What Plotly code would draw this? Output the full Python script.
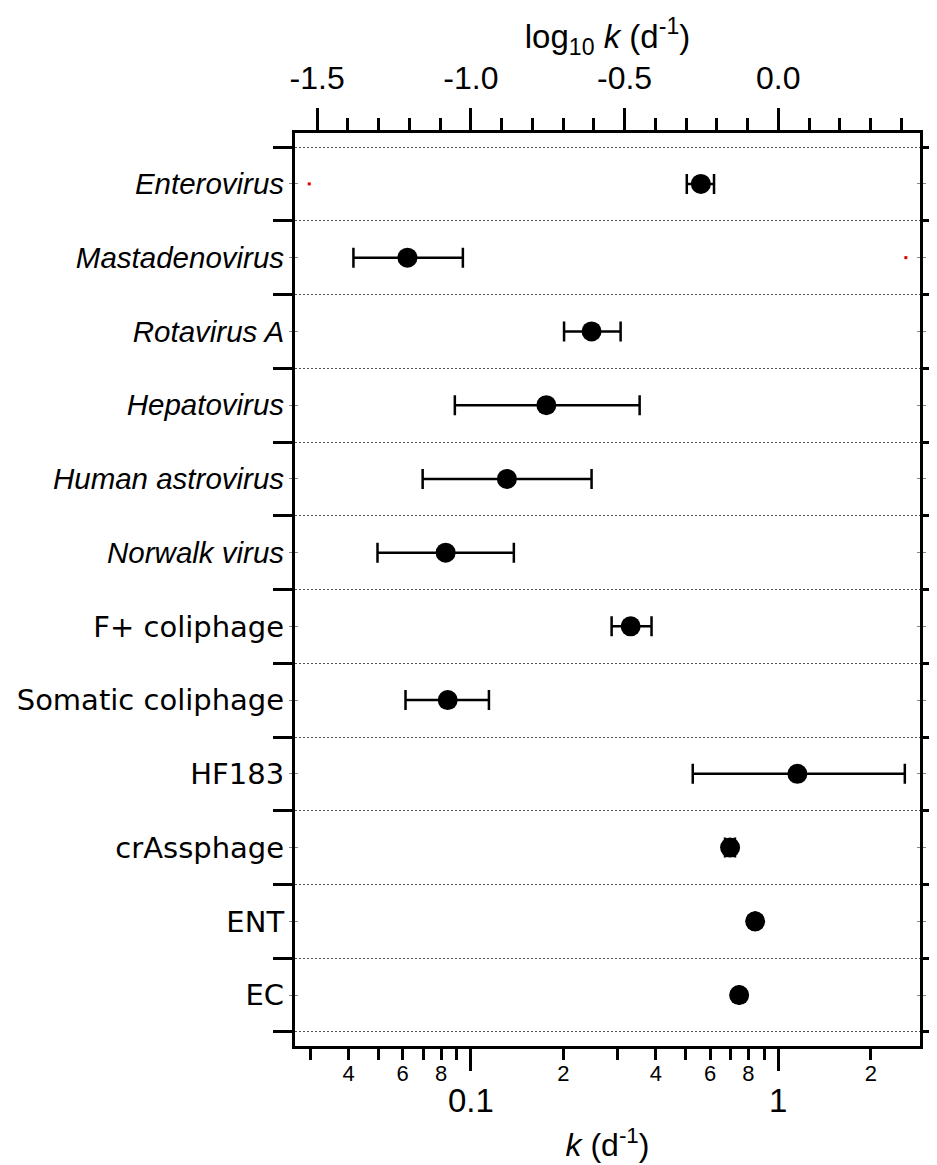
import numpy as np
import plotly.graph_objects as go

# ---- data (k in d^-1) ----
categories = ["Enterovirus", "Mastadenovirus", "Rotavirus A", "Hepatovirus",
              "Human astrovirus", "Norwalk virus", "F+ coliphage", "Somatic coliphage",
              "HF183", "crAssphage", "ENT", "EC"]
italic_flags = [True, True, True, True, True, True, False, False, False, False, False, False]
k_mean = [0.560, 0.0622, 0.247, 0.176, 0.131, 0.0828, 0.331, 0.0841, 1.154, 0.697, 0.841, 0.746]
k_low = [0.504, 0.0415, 0.201, 0.0887, 0.0697, 0.0497, 0.287, 0.0613, 0.527, 0.671, 0.841, 0.746]
k_high = [0.618, 0.0942, 0.307, 0.354, 0.247, 0.138, 0.387, 0.1145, 2.58, 0.723, 0.841, 0.746]

# stray red points visible in the original
stray_k = [0.0298, 2.60]
stray_cat = [0, 1]

# axis tick definitions
top_major = [-1.5, -1.0, -0.5, 0.0]
top_major_text = ["-1.5", "-1.0", "-0.5", "0.0"]
bottom_major = [0.1, 1]
bottom_major_text = ["0.1", "1"]
bottom_minor = [0.03, 0.04, 0.05, 0.06, 0.07, 0.08, 0.09,
                0.2, 0.3, 0.4, 0.5, 0.6, 0.7, 0.8, 0.9, 2]
bottom_small_vals = [0.04, 0.06, 0.08, 0.2, 0.4, 0.6, 0.8, 2]
bottom_small_text = ["4", "6", "8", "2", "4", "6", "8", "2"]

log_range = [-1.572, 0.461]
n = len(categories)
ypos = list(range(n))

SANS = "Liberation Sans"
UPRIGHT = "DejaVu Sans"

tick_labels = [f"<i>{c}</i>" if it else
               f"<span style='font-family:{UPRIGHT};font-size:29px'>{c}</span>"
               for c, it in zip(categories, italic_flags)]

fig = go.Figure()
fig.add_trace(go.Scatter(
    x=k_mean, y=ypos, mode="markers",
    marker=dict(size=20, color="black"),
    error_x=dict(type="data", symmetric=False,
                 array=[h - m for h, m in zip(k_high, k_mean)],
                 arrayminus=[m - l for m, l in zip(k_mean, k_low)],
                 color="black", thickness=2.5, width=10),
    showlegend=False, hoverinfo="skip", xaxis="x", yaxis="y"))
fig.add_trace(go.Scatter(
    x=stray_k, y=stray_cat, mode="markers",
    marker=dict(size=3, color="#e00000", symbol="square"),
    showlegend=False, hoverinfo="skip", xaxis="x", yaxis="y"))
# invisible traces to activate the overlay axes
fig.add_trace(go.Scatter(x=[np.nan], y=[np.nan], xaxis="x2", yaxis="y", showlegend=False))
fig.add_trace(go.Scatter(x=[np.nan], y=[np.nan], xaxis="x3", yaxis="y", showlegend=False))

fig.update_layout(
    width=937, height=1165,
    margin=dict(l=287, r=25, t=125, b=127),
    paper_bgcolor="white", plot_bgcolor="white",
    font=dict(family=SANS, color="black"),
    xaxis=dict(
        type="log", range=log_range, automargin=False,
        tickmode="array", tickvals=bottom_major, ticktext=bottom_major_text,
        ticks="outside", ticklen=22, tickwidth=2.5, tickcolor="black",
        tickfont=dict(size=33), ticklabelstandoff=1,
        minor=dict(tickmode="array", tickvals=bottom_minor, ticks="outside",
                   ticklen=11, tickwidth=2.5, tickcolor="black", showgrid=False),
        showline=True, linewidth=3, linecolor="black", mirror=True,
        showgrid=False, zeroline=False,
        title=dict(text="<i>k</i> (d<sup>-1</sup>)", font=dict(size=32), standoff=17),
    ),
    xaxis3=dict(
        type="log", range=log_range, overlaying="x", side="bottom", anchor="y",
        automargin=False,
        tickmode="array", tickvals=bottom_small_vals, ticktext=bottom_small_text,
        ticks="", tickfont=dict(size=22), ticklabelstandoff=12,
        showline=False, showgrid=False, zeroline=False,
    ),
    xaxis2=dict(
        range=log_range, overlaying="x", side="top", anchor="y", automargin=False,
        tickmode="array", tickvals=top_major, ticktext=top_major_text,
        ticks="outside", ticklen=22, tickwidth=2.5, tickcolor="black",
        tickfont=dict(size=32), ticklabelstandoff=6,
        minor=dict(dtick=0.1, ticks="outside", ticklen=12, tickwidth=2.5,
                   tickcolor="black", showgrid=False),
        showline=True, linewidth=3, linecolor="black",
        showgrid=False, zeroline=False,
        title=dict(text="log<sub>10</sub> <i>k</i> (d<sup>-1</sup>)", font=dict(size=33), standoff=0),
    ),
    yaxis=dict(
        range=[n - 1 + 0.69, -0.69], automargin=False,
        tickmode="array", tickvals=ypos, ticktext=tick_labels,
        ticks="inside", ticklen=3, tickwidth=1, tickcolor="#888",
        tickfont=dict(size=29.5, family=SANS), ticklabelstandoff=2,
        minor=dict(tickmode="array", tickvals=[i - 0.5 for i in range(n + 1)],
                   ticks="outside", ticklen=19, tickwidth=2.5, tickcolor="black",
                   showgrid=True, gridcolor="#555", gridwidth=1, griddash="2px,2px"),
        showline=True, linewidth=3, linecolor="black", mirror="allticks",
        showgrid=False, zeroline=False,
    ),
)

fig.write_html("out.html")
